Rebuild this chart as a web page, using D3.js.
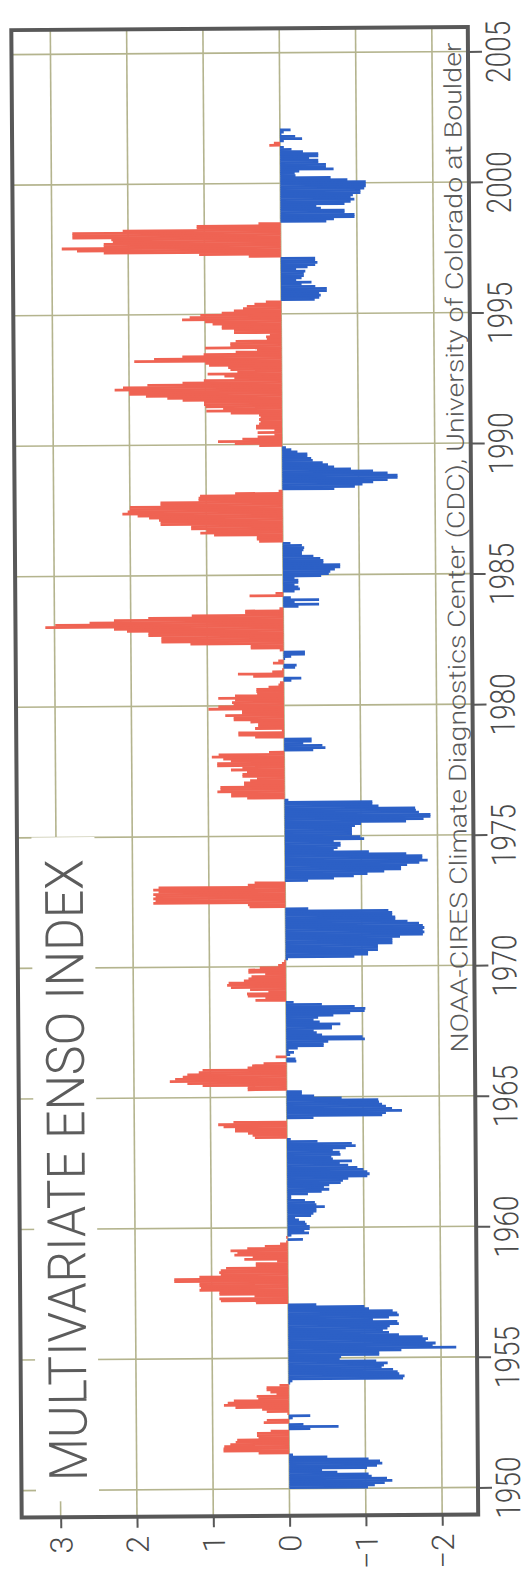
<!DOCTYPE html>
<html>
<head>
<meta charset="utf-8">
<script src="https://cdn.jsdelivr.net/npm/d3@7"></script>
<style>
  body { margin: 0; background: #fff; }
  svg { display: block; }
</style>
</head>
<body>
<div id="chart"></div>
<script>
// monthly MEI values, one row per year (Jan..Dec)
const mei1950s = [
  -1.03, -1.12, -1.25, -1.35, -1.28, -1.08, -1.04, -0.63, -0.43, -1.02, -1.15, -1.22,
  -1.19, -1.04, -0.50, -0.05, 0.40, 0.86, 0.86, 0.85, 0.77, 0.70, 0.68, 0.40,
  0.42, 0.42, 0.24, -0.28, -0.65, -0.19, 0.33, 0.29, -0.05, -0.28, 0.02, 0.29,
  0.35, 0.70, 0.85, 0.80, 0.72, 0.40, 0.42, 0.16, 0.24, 0.29, 0.29, 0.12,
  -0.02, -0.05, -1.50, -1.52, -1.45, -1.43, -1.37, -1.22, -1.25, -1.30, -1.15, -0.67,
  -0.69, -1.19, -1.19, -1.48, -2.20, -1.89, -1.93, -1.80, -1.83, -1.76, -1.45, -1.32,
  -1.24, -1.30, -1.33, -1.45, -1.43, -1.11, -1.32, -1.45, -1.43, -1.37, -1.06, -1.00,
  -0.37, 0.42, 0.88, 0.90, 0.44, 0.90, 0.90, 1.16, 1.14, 1.16, 1.16, 1.49,
  1.49, 1.16, 0.88, 0.90, 0.88, 0.81, 0.42, 0.42, 0.14, 0.57, 0.46, 0.70,
  0.66, 0.75, 0.53, 0.30, 0.10, 0.02, -0.20, 0.02, -0.05, -0.28, -0.22, -0.29
];
const mei1960s = [
  -0.29, -0.25, -0.23, -0.15, -0.10, -0.31, -0.34, -0.38, -0.38, -0.49, -0.38, -0.36,
  -0.23, -0.05, -0.05, -0.27, -0.45, -0.55, -0.48, -0.55, -0.70, -0.73, -0.80, -1.05,
  -1.08, -1.05, -1.00, -0.92, -0.80, -0.69, -0.85, -0.60, -0.58, -0.70, -0.69, -0.60,
  -0.77, -0.90, -0.85, -0.40, -0.05, 0.42, 0.45, 0.51, 0.68, 0.68, 0.83, 0.90,
  0.70, 0.00, -0.35, -1.25, -1.30, -1.51, -1.38, -1.30, -1.25, -1.21, -1.20, -0.72,
  -0.36, -0.20, -0.20, 0.51, 0.51, 1.10, 1.30, 1.53, 1.46, 1.36, 1.30, 1.15,
  1.10, 0.51, 0.45, 0.30, -0.13, -0.12, 0.14, -0.05, -0.10, -0.03, -0.15, -0.49,
  -0.49, -0.55, -1.03, -1.00, -0.47, -0.40, -0.36, -0.60, -0.60, -0.71, -0.44, -0.36,
  -0.42, -0.62, -0.84, -1.03, -1.04, -0.90, -0.47, -0.10, 0.40, 0.27, 0.50, 0.51,
  0.23, 0.47, 0.72, 0.77, 0.75, 0.55, 0.49, 0.45, 0.27, 0.49, 0.49, 0.34
];
const mei1970s = [
  0.10, 0.05, 0.02, -0.03, -0.90, -1.08, -1.08, -1.21, -1.21, -1.21, -1.40, -1.40,
  -1.40, -1.50, -1.80, -1.82, -1.80, -1.82, -1.80, -1.75, -1.60, -1.44, -1.44, -1.40,
  -1.40, -1.35, -0.30, 0.47, 0.49, 1.73, 1.70, 1.73, 1.70, 1.73, 1.66, 1.73,
  1.66, 0.49, 0.40, -0.30, -0.64, -0.90, -1.08, -1.30, -1.52, -1.52, -1.60, -1.76,
  -1.87, -1.80, -1.80, -1.59, -1.10, -0.64, -0.69, -0.73, -0.73, -0.64, -1.04, -0.99,
  -0.88, -0.88, -0.88, -0.88, -0.92, -1.00, -1.59, -1.82, -1.91, -1.91, -1.76, -1.72,
  -1.71, -1.23, -1.15, -1.15, -0.05, 0.49, 0.70, 0.70, 0.88, 0.84, 0.84, 0.53,
  0.53, 0.45, 0.36, 0.55, 0.55, 0.49, 0.70, 0.55, 0.88, 0.88, 0.70, 0.80,
  0.95, 0.86, 0.20, -0.38, -0.54, -0.50, -0.25, -0.36, -0.36, 0.38, 0.60, 0.60,
  0.03, 0.38, 0.34, 0.34, 0.44, 0.66, 0.66, 0.77, 0.55, 0.55, 0.99, 0.86
];
const mei1980s = [
  0.66, 0.68, 0.64, 0.86, 0.64, 0.35, 0.36, 0.36, 0.20, 0.07, 0.05, -0.10,
  -0.23, 0.40, 0.60, 0.15, 0.02, -0.15, -0.17, 0.14, 0.07, -0.02, -0.10, -0.28,
  -0.28, 0.05, 0.43, 0.43, 1.22, 1.60, 1.60, 1.60, 1.77, 1.77, 2.05, 2.22,
  3.12, 2.99, 2.54, 2.22, 1.77, 1.20, 0.50, 0.50, 0.05, -0.20, -0.47, -0.15,
  -0.47, -0.10, 0.44, 0.10, -0.15, -0.22, -0.20, -0.15, -0.20, -0.20, -0.15, -0.50,
  -0.60, -0.62, -0.68, -0.75, -0.75, -0.53, -0.53, -0.49, -0.40, -0.25, -0.25, -0.27,
  -0.28, -0.25, -0.10, 0.31, 0.34, 0.34, 0.90, 1.08, 1.00, 1.20, 1.20, 1.60,
  1.60, 1.62, 1.75, 1.90, 2.10, 2.03, 2.00, 2.00, 1.60, 1.60, 1.10, 1.10,
  1.08, 0.62, 0.05, -0.68, -0.95, -1.05, -1.19, -1.38, -1.51, -1.51, -1.38, -1.19,
  -0.90, -0.68, -0.60, -0.53, -0.40, -0.38, -0.33, -0.33, -0.20, -0.12, -0.05, 0.30
];
const mei1990s = [
  0.62, 0.84, 0.52, 0.32, 0.10, 0.32, 0.10, 0.34, 0.34, 0.30, 0.28, 0.30,
  0.28, 0.30, 0.67, 0.99, 0.77, 1.00, 1.02, 1.02, 1.30, 1.50, 1.78, 2.00,
  2.00, 2.19, 2.08, 1.76, 1.30, 1.02, 0.62, 0.75, 0.97, 0.58, 0.67, 0.70,
  0.95, 1.00, 1.93, 1.67, 1.30, 1.02, 0.60, 0.32, 1.00, 0.67, 0.67, 0.60,
  0.19, 0.20, 0.15, 0.62, 0.62, 0.78, 0.78, 0.90, 1.00, 1.30, 1.20, 1.06,
  0.78, 0.62, 0.50, 0.45, 0.35, 0.20, -0.44, -0.50, -0.52, -0.50, -0.60, -0.60,
  -0.45, -0.27, -0.40, -0.20, -0.27, -0.30, -0.30, -0.32, -0.20, -0.35, -0.45, -0.48,
  -0.45, -0.45, 0.42, 1.07, 2.32, 2.67, 2.87, 2.32, 2.32, 2.20, 2.22, 2.73,
  2.73, 2.73, 2.07, 1.10, 1.10, 0.29, -0.60, -0.70, -0.97, -0.97, -0.84, -0.84,
  -0.53, -0.47, -0.84, -0.92, -0.97, -0.92, -0.95, -1.05, -1.05, -1.10, -1.12, -1.12
];
const mei2000s = [
  -1.12, -0.88, -0.66, -0.20, -0.19, -0.25, -0.70, -0.60, -0.60, -0.50, -0.50, -0.38,
  -0.50, -0.50, -0.30, -0.15, -0.05, 0.14, 0.08, -0.05, -0.29, -0.20, -0.02, -0.05,
  -0.14
];
const startYear = 1950;
const yearTicks = [1950, 1955, 1960, 1965, 1970, 1975, 1980, 1985, 1990, 1995, 2000, 2005];
const valueTicks = [3, 2, 1, 0, -1, -2];
const title = 'MULTIVARIATE ENSO INDEX';
const credit = 'NOAA-CIRES Climate Diagnostics Center (CDC), University of Colorado at Boulder';

const width = 531, height = 1573;
const red = '#ef6353', blue = '#2c60c6';
const gridColor = '#b4b48e', frameColor = '#585858', textColor = '#4a4a4a';
const font = "Roboto, 'Liberation Sans', sans-serif";

const svg = d3.select('#chart').append('svg')
    .attr('width', width)
    .attr('height', height);

// the scan sits a little crooked, so tilt the whole drawing
const g = svg.append('g').attr('transform', 'rotate(-0.4, 245, 773)');

const frame = {left: 16.5, right: 473, top: 28.5, bottom: 1516};

// the chart is turned on its side: time runs up, positive values run left
const x = d3.scaleLinear().domain([-2, 3]).range([437, 55.5]);
const y = d3.scaleLinear().domain([1950, 2005]).range([1489, 53]);

// grid
g.append('g').selectAll('line').data(valueTicks).join('line')
    .attr('x1', d => x(d)).attr('x2', d => x(d))
    .attr('y1', frame.top).attr('y2', frame.bottom)
    .attr('stroke', gridColor).attr('stroke-width', 1.6);
g.append('g').selectAll('line').data(yearTicks).join('line')
    .attr('x1', frame.left).attr('x2', frame.right)
    .attr('y1', d => y(d)).attr('y2', d => y(d))
    .attr('stroke', gridColor).attr('stroke-width', 1.6);

// white patch behind the title
g.append('rect')
    .attr('x', 31).attr('y', 836)
    .attr('width', 63).attr('height', 664)
    .attr('fill', '#fff');

// bars
const data = [].concat(mei1950s, mei1960s, mei1970s, mei1980s, mei1990s, mei2000s)
    .map((v, i) => ({t: startYear + i / 12, v: v}));

g.append('g').selectAll('rect').data(data).join('rect')
    .attr('x', d => Math.min(x(0), x(d.v)))
    .attr('width', d => Math.abs(x(d.v) - x(0)))
    .attr('y', d => y(d.t + 1 / 12) - 0.3)
    .attr('height', d => y(d.t) - y(d.t + 1 / 12) + 0.6)
    .attr('fill', d => d.v >= 0 ? red : blue);

// frame
g.append('rect')
    .attr('x', frame.left).attr('y', frame.top)
    .attr('width', frame.right - frame.left)
    .attr('height', frame.bottom - frame.top)
    .attr('fill', 'none')
    .attr('stroke', frameColor)
    .attr('stroke-width', 4);

// year axis on the right
const yAxis = g.append('g')
    .attr('transform', `translate(${frame.right},0)`)
    .call(d3.axisRight(y).tickValues(yearTicks).tickSize(14).tickFormat(d3.format('d')));
yAxis.select('.domain').remove();
yAxis.selectAll('line').attr('stroke', frameColor).attr('stroke-width', 2);
yAxis.selectAll('text')
    .attr('transform', 'rotate(-90)')
    .attr('x', 0).attr('y', 42).attr('dy', 0)
    .attr('text-anchor', 'middle')
    .attr('font-family', font).attr('font-weight', 300)
    .attr('font-size', 34)
    .attr('textLength', 62).attr('lengthAdjust', 'spacingAndGlyphs')
    .attr('fill', textColor);

// value axis at the bottom
const xAxis = g.append('g')
    .attr('transform', `translate(0,${frame.bottom})`)
    .call(d3.axisBottom(x).tickValues(valueTicks).tickSize(11).tickFormat(d3.format('d')));
xAxis.select('.domain').remove();
xAxis.selectAll('line').attr('stroke', frameColor).attr('stroke-width', 2);
xAxis.selectAll('text')
    .attr('transform', 'rotate(-90)')
    .attr('x', -19).attr('y', 11).attr('dy', 0)
    .attr('text-anchor', 'end')
    .attr('font-family', font).attr('font-weight', 300)
    .attr('font-size', 31)
    .attr('fill', textColor);

// title
g.append('text')
    .attr('transform', 'translate(82,1480) rotate(-90)')
    .attr('font-family', font).attr('font-weight', 300)
    .attr('font-size', 53)
    .attr('textLength', 622).attr('lengthAdjust', 'spacingAndGlyphs')
    .attr('fill', '#5c5c5c')
    .text(title);

// credit line
g.append('text')
    .attr('transform', 'translate(466,1054) rotate(-90)')
    .attr('font-family', font).attr('font-weight', 300)
    .attr('font-size', 24)
    .attr('textLength', 1010).attr('lengthAdjust', 'spacingAndGlyphs')
    .attr('fill', '#5a5a5a')
    .text(credit);
</script>
</body>
</html>
